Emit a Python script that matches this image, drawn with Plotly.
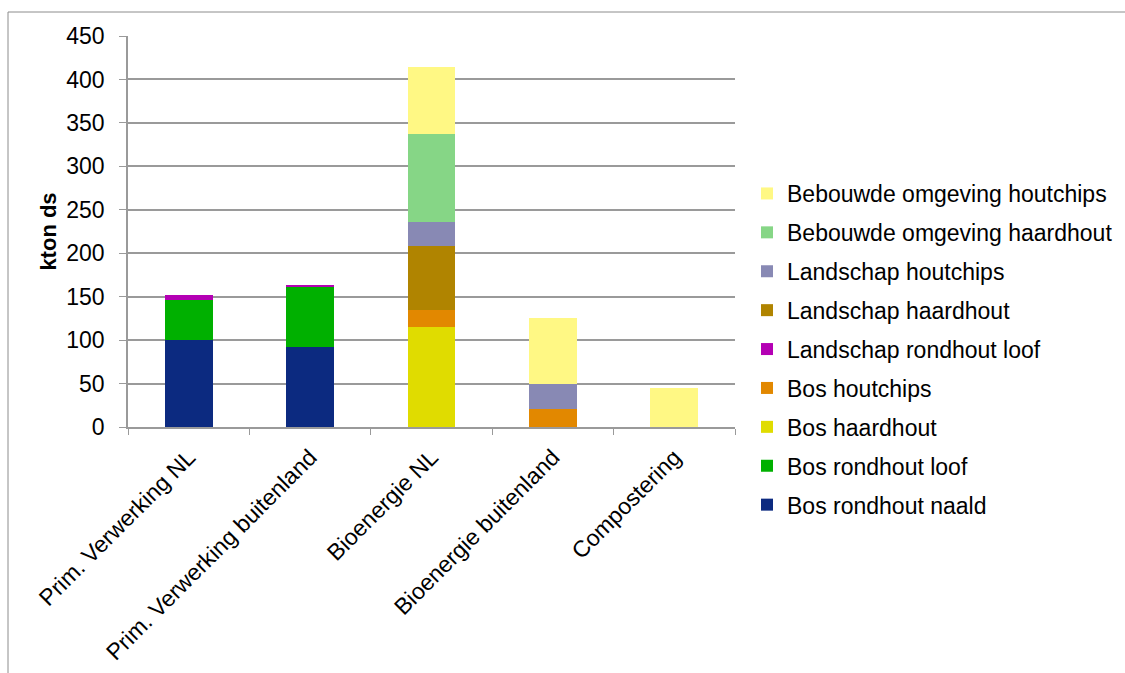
import plotly.graph_objects as go

# Categories along the x axis
categories = ["Prim. Verwerking NL", "Prim. Verwerking buitenland", "Bioenergie NL",
              "Bioenergie buitenland", "Compostering"]

# Stacked series (kton ds), bottom to top
bos_rondhout_naald = [100, 92, 0, 0, 0]
bos_rondhout_loof = [46, 69, 0, 0, 0]
bos_haardhout = [0, 0, 115, 0, 0]
bos_houtchips = [0, 0, 20, 21, 0]
landschap_rondhout_loof = [5.5, 3, 0, 0, 0]
landschap_haardhout = [0, 0, 73.5, 0, 0]
landschap_houtchips = [0, 0, 27.5, 28, 0]
bebouwd_haardhout = [0, 0, 101, 0, 0]
bebouwd_houtchips = [0, 0, 77.5, 77, 45]

series = [
    ("Bos rondhout naald", bos_rondhout_naald, "#0C2A80"),
    ("Bos rondhout loof", bos_rondhout_loof, "#00B000"),
    ("Bos haardhout", bos_haardhout, "#E0DC00"),
    ("Bos houtchips", bos_houtchips, "#E28800"),
    ("Landschap rondhout loof", landschap_rondhout_loof, "#B400B4"),
    ("Landschap haardhout", landschap_haardhout, "#B08400"),
    ("Landschap houtchips", landschap_houtchips, "#8889B4"),
    ("Bebouwde omgeving haardhout", bebouwd_haardhout, "#86D686"),
    ("Bebouwde omgeving houtchips", bebouwd_houtchips, "#FFF884"),
]

FONT = "Liberation Sans, Arial, sans-serif"
FS = 23

fig = go.Figure()
for i, (name, vals, color) in enumerate(series):
    # top of the stack first in the legend
    fig.add_trace(go.Bar(
        x=categories, y=vals, name=name, legendgroup=f"g{i}",
        legendrank=1000 - 10 * i,
        marker=dict(color=color, line=dict(width=0)),
    ))

W, H = 1125, 673
L, R, T, B = 128, 390, 36, 246
pw, ph = W - L - R, H - T - B

fig.update_layout(
    width=W, height=H,
    margin=dict(l=L, r=R, t=T, b=B, autoexpand=False),
    barmode="stack", bargap=0.605,
    paper_bgcolor="white", plot_bgcolor="white",
    font=dict(family=FONT, size=FS, color="black"),
    showlegend=True,
    legend=dict(
        traceorder="grouped", x=(747 - L) / pw, xanchor="left",
        y=(427 - 172) / ph, yanchor="top",
        font=dict(size=FS), tracegroupgap=6, itemwidth=30,
        bgcolor="rgba(0,0,0,0)",
    ),
    xaxis=dict(
        type="category", tickangle=-45, showline=True, linecolor="#9A9A9A", linewidth=1.5,
        ticks="outside", tickson="boundaries", ticklen=6, tickcolor="#9A9A9A",
        ticklabelstandoff=6,
        showgrid=False, tickfont=dict(size=FS), automargin=False,
    ),
    yaxis=dict(
        range=[0, 450], dtick=50, showline=True, linecolor="#9A9A9A", linewidth=1.5,
        ticks="outside", ticklen=7, tickcolor="#9A9A9A", ticklabelstandoff=10,
        showgrid=True, gridcolor="#9A9A9A", gridwidth=1.5, zeroline=False,
        tickfont=dict(size=FS), automargin=False,
        title=dict(text="<b>kton ds</b>", font=dict(size=FS - 1), standoff=4),
    ),
    shapes=[dict(
        type="rect", xref="paper", yref="paper",
        x0=(8 - L) / pw, x1=(1140 - L) / pw,
        y0=(427 - 690) / ph, y1=(427 - 12) / ph,
        line=dict(color="#8C8C8C", width=1), fillcolor="rgba(0,0,0,0)", layer="below",
    )],
)

fig.write_html("out.html")
